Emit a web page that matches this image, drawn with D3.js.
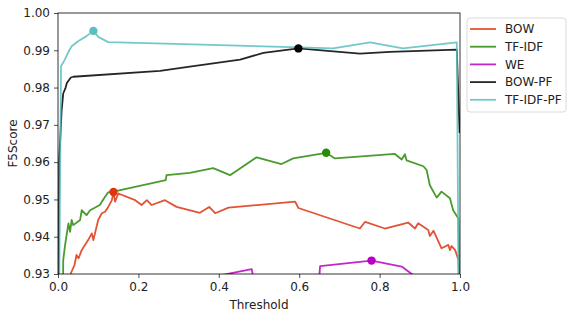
<!DOCTYPE html>
<html>
<head>
<meta charset="utf-8">
<script src="https://cdn.jsdelivr.net/npm/d3@7/dist/d3.min.js"></script>
<style>
  body { margin: 0; background: #fff; }
  svg { display: block; font-family: "DejaVu Sans", sans-serif; }
</style>
</head>
<body>
<div id="chart"></div>
<script>
// series names (legend order)
const seriesNames = ['BOW', 'TF-IDF', 'WE', 'BOW-PF', 'TF-IDF-PF'];

// thresholds / F5 scores
const bowT = [0.028, 0.032, 0.041, 0.046, 0.051, 0.059, 0.067, 0.075, 0.084, 0.088, 0.096, 0.100, 0.104, 0.109, 0.117, 0.125, 0.134, 0.138, 0.142, 0.150, 0.192, 0.208, 0.221, 0.233, 0.266, 0.295, 0.353, 0.376, 0.391, 0.424, 0.590, 0.598, 0.751, 0.764, 0.813, 0.871, 0.888, 0.896, 0.921, 0.925, 0.934, 0.954, 0.971, 0.975, 0.979, 0.988, 0.996, 0.999];
const bowS = [0.925, 0.9302, 0.9324, 0.9351, 0.9342, 0.9364, 0.9378, 0.9391, 0.9409, 0.9391, 0.9427, 0.9445, 0.9453, 0.9463, 0.9467, 0.9480, 0.9498, 0.9520, 0.9494, 0.9516, 0.9498, 0.9485, 0.9498, 0.9485, 0.9498, 0.9480, 0.9464, 0.9480, 0.9463, 0.9478, 0.9494, 0.9477, 0.9422, 0.9440, 0.9422, 0.9438, 0.9422, 0.9436, 0.9418, 0.9402, 0.9416, 0.9369, 0.9378, 0.9364, 0.9375, 0.9364, 0.9338, 0.920];

const tfidfT = [0.012, 0.013, 0.017, 0.022, 0.026, 0.030, 0.034, 0.038, 0.055, 0.059, 0.071, 0.080, 0.104, 0.117, 0.125, 0.138, 0.268, 0.270, 0.328, 0.386, 0.428, 0.494, 0.556, 0.585, 0.667, 0.689, 0.838, 0.855, 0.863, 0.867, 0.909, 0.917, 0.925, 0.942, 0.954, 0.975, 0.983, 0.996, 0.999];
const tfidfS = [0.920, 0.9337, 0.9373, 0.9409, 0.9436, 0.9413, 0.9445, 0.9431, 0.9445, 0.9471, 0.9458, 0.9471, 0.9485, 0.9507, 0.9519, 0.9521, 0.9552, 0.9565, 0.9571, 0.9584, 0.9565, 0.9613, 0.9595, 0.9610, 0.9625, 0.9610, 0.9622, 0.9607, 0.9621, 0.9605, 0.9589, 0.9579, 0.9538, 0.9505, 0.9521, 0.9503, 0.9471, 0.9449, 0.920];

const weT = [0.35, 0.482, 0.492, 0.647, 0.652, 0.780, 0.855, 0.880, 0.92];
const weS = [0.9285, 0.9313, 0.925, 0.925, 0.9321, 0.9336, 0.9320, 0.9300, 0.926];

const bowPfT = [0.001, 0.003, 0.009, 0.013, 0.019, 0.022, 0.032, 0.038, 0.254, 0.328, 0.453, 0.511, 0.598, 0.751, 0.826, 0.992, 0.999];
const bowPfS = [0.90, 0.9605, 0.9739, 0.9784, 0.9800, 0.9812, 0.9827, 0.9829, 0.9845, 0.9856, 0.9875, 0.9893, 0.9905, 0.9891, 0.9896, 0.9902, 0.9678];

const tfidfPfT = [0.001, 0.0075, 0.016, 0.026, 0.034, 0.050, 0.071, 0.088, 0.100, 0.125, 0.266, 0.602, 0.684, 0.776, 0.858, 0.992, 0.997];
const tfidfPfS = [0.90, 0.9857, 0.9873, 0.9896, 0.9911, 0.9924, 0.9938, 0.9952, 0.9936, 0.9922, 0.9918, 0.9908, 0.9905, 0.9921, 0.9905, 0.9921, 0.920];

const xTicks = [0, 0.2, 0.4, 0.6, 0.8, 1.0];
const yTicks = [0.93, 0.94, 0.95, 0.96, 0.97, 0.98, 0.99, 1.00];

const colors = ['#dc3510', '#2a8a0a', '#b800c0', '#000000', '#5bbfc1'];

const series = [
  [bowT, bowS], [tfidfT, tfidfS], [weT, weS], [bowPfT, bowPfS], [tfidfPfT, tfidfPfS]
].map(([t, s], i) => ({
  name: seriesNames[i],
  color: colors[i],
  pts: t.map((x, j) => ({ x: x, y: s[j] }))
}));

const W = 568, H = 316;
const margin = { top: 13, right: 108, bottom: 42, left: 58 },
  width = W - margin.left - margin.right,
  height = H - margin.top - margin.bottom;

const svg = d3.select('#chart').append('svg')
  .attr('width', W)
  .attr('height', H);

const g = svg.append('g')
  .attr('transform', 'translate(' + margin.left + ',' + margin.top + ')');

const x = d3.scaleLinear().domain([0, 1]).range([0, width]);
const y = d3.scaleLinear().domain([0.93, 1.00]).range([height, 0]);

g.append('clipPath').attr('id', 'clip')
  .append('rect').attr('width', width).attr('height', height);

// axes
const xAxis = g.append('g')
  .attr('transform', 'translate(0,' + height + ')')
  .call(d3.axisBottom(x).tickValues(xTicks).tickFormat(d3.format('.1f')).tickSize(4).tickPadding(4));
const yAxis = g.append('g')
  .call(d3.axisLeft(y).tickValues(yTicks).tickFormat(d3.format('.2f')).tickSize(4).tickPadding(4));

[xAxis, yAxis].forEach(a => {
  a.select('.domain').remove();
  a.selectAll('text').attr('font-size', 12).attr('fill', '#222')
    .attr('font-family', '"DejaVu Sans", sans-serif');
  a.selectAll('line').attr('stroke', '#222').attr('stroke-width', 0.8);
});

// lines
const line = d3.line().x(d => x(d.x)).y(d => y(d.y));
const plot = g.append('g').attr('clip-path', 'url(#clip)');

series.forEach(s => {
  plot.append('path')
    .datum(s.pts)
    .attr('fill', 'none')
    .attr('stroke', s.color)
    .attr('stroke-opacity', 0.85)
    .attr('stroke-width', 1.8)
    .attr('stroke-linejoin', 'round')
    .attr('d', line);
});

// best score markers
series.forEach(s => {
  const best = d3.greatest(s.pts, d => d.y);
  plot.append('circle')
    .attr('cx', x(best.x))
    .attr('cy', y(best.y))
    .attr('r', 4.2)
    .attr('fill', s.color);
});

// frame
g.append('rect')
  .attr('width', width).attr('height', height)
  .attr('fill', 'none').attr('stroke', '#000').attr('stroke-width', 0.8);

// axis labels
g.append('text')
  .attr('x', width / 2).attr('y', height + 35)
  .attr('text-anchor', 'middle').attr('font-size', 12).attr('fill', '#222')
  .text('Threshold');
g.append('text')
  .attr('transform', 'translate(' + (-41) + ',' + (height / 2) + ') rotate(-90)')
  .attr('text-anchor', 'middle').attr('font-size', 12).attr('fill', '#222')
  .text('F5Score');

// legend
const lg = svg.append('g').attr('transform', 'translate(467,18)');
lg.append('rect')
  .attr('width', 99).attr('height', 94).attr('rx', 3)
  .attr('fill', '#fff').attr('stroke', '#d0d0d0').attr('stroke-width', 0.8);
series.forEach((s, i) => {
  const row = lg.append('g').attr('transform', 'translate(0,' + (11 + i * 17.7) + ')');
  row.append('line')
    .attr('x1', 3).attr('x2', 29)
    .attr('stroke', s.color).attr('stroke-opacity', 0.85).attr('stroke-width', 1.8);
  row.append('text')
    .attr('x', 38).attr('dy', '0.35em')
    .attr('font-size', 12).attr('fill', '#222')
    .text(s.name);
});
</script>
</body>
</html>
